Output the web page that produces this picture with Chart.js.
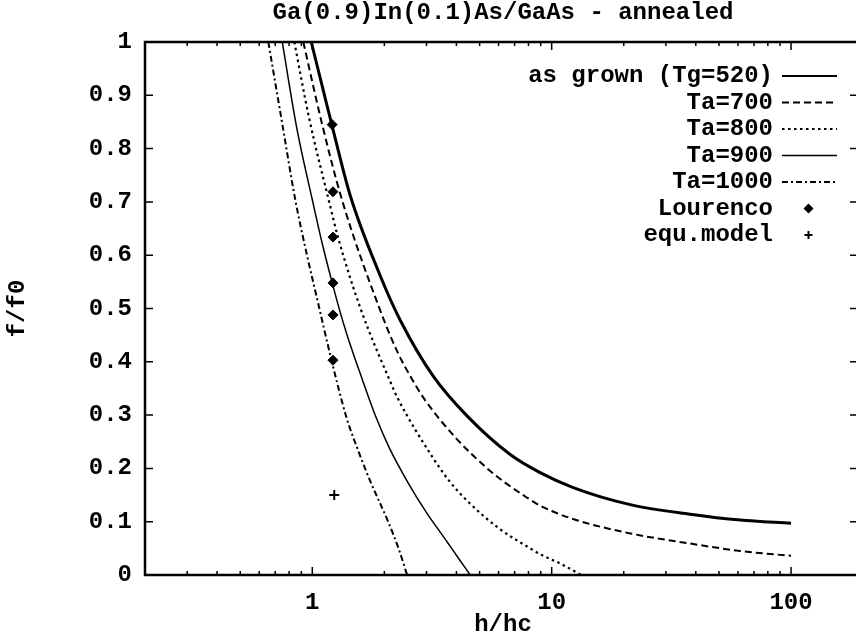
<!DOCTYPE html>
<html>
<head>
<meta charset="utf-8">
<script src="https://cdn.jsdelivr.net/npm/chart.js@4.4.1/dist/chart.umd.min.js"></script>
<style>
  html, body { margin: 0; padding: 0; background: #fff; overflow: hidden; width: 856px; height: 637px; }
  #chart { display: block; }
</style>
</head>
<body>
<canvas id="chart" width="868" height="637"></canvas>
<script>
// values
const grownX = [0.99, 1.11, 1.22, 1.44, 1.92, 2.33, 3.2, 4.44, 6.71, 8.95, 12.3, 21.3, 37.9, 61.3, 100];
const grownY = [1.0, 0.91, 0.836, 0.712, 0.562, 0.478, 0.373, 0.298, 0.226, 0.192, 0.164, 0.132, 0.114, 0.103, 0.097];

const ta700X = [0.917, 1.1, 1.33, 1.89, 2.26, 2.62, 2.96, 3.96, 5.38, 6.27, 7.9, 8.95, 12.3, 21.3, 37.9, 61.3, 100];
const ta700Y = [1.0, 0.845, 0.704, 0.505, 0.42, 0.366, 0.328, 0.258, 0.2, 0.176, 0.145, 0.13, 0.105, 0.078, 0.059, 0.045, 0.036];

const ta800X = [0.841, 0.97, 1.17, 1.28, 1.59, 2.12, 2.26, 3.2, 3.77, 4.44, 6.0, 8.13, 8.95, 10.8, 13.3];
const ta800Y = [1.0, 0.857, 0.704, 0.634, 0.5, 0.362, 0.334, 0.219, 0.174, 0.139, 0.088, 0.05, 0.039, 0.022, 0];

const ta900X = [0.749, 0.86, 1.0, 1.1, 1.2, 1.3, 1.4, 1.62, 1.83, 2.1, 2.52, 3.0, 3.66, 4.1, 4.57];
const ta900Y = [1.0, 0.84, 0.704, 0.622, 0.555, 0.497, 0.449, 0.366, 0.3, 0.238, 0.172, 0.117, 0.062, 0.03, 0];

const ta1000X = [0.655, 0.75, 0.849, 0.95, 1.05, 1.2, 1.39, 1.55, 1.75, 2.06, 2.3, 2.49];
const ta1000Y = [1.0, 0.845, 0.704, 0.6, 0.516, 0.405, 0.295, 0.235, 0.175, 0.103, 0.048, 0];

const lourencoX = [1.21, 1.22, 1.22, 1.22, 1.22, 1.22];
const lourencoY = [0.845, 0.719, 0.634, 0.548, 0.488, 0.403];

const equX = [1.235];
const equY = [0.15];

const xMajorTicks = [1, 10, 100];
const xMinorTicks = [0.3, 0.4, 0.5, 0.6, 0.7, 0.8, 0.9, 2, 3, 4, 5, 6, 7, 8, 9, 20, 30, 40, 50, 60, 70, 80, 90];
const yTicks = [0, 0.1, 0.2, 0.3, 0.4, 0.5, 0.6, 0.7, 0.8, 0.9, 1];

const legendLabels = ["as grown (Tg=520)", "Ta=700", "Ta=800", "Ta=900", "Ta=1000", "Lourenco", "equ.model"];

const FONT = "'Liberation Mono', 'Courier New', monospace";

function pts(xs, ys) {
  return xs.map((x, i) => ({ x: x, y: ys[i] }));
}

function curve(label, xs, ys, width, dash) {
  return {
    label: label,
    data: pts(xs, ys),
    borderColor: "#000",
    borderWidth: width,
    borderDash: dash,
    pointRadius: 0,
    fill: false,
    cubicInterpolationMode: "monotone",
  };
}

const datasets = [
  curve(legendLabels[0], grownX, grownY, 3, []),
  curve(legendLabels[1], ta700X, ta700Y, 2, [7, 4]),
  curve(legendLabels[2], ta800X, ta800Y, 2.2, [2.5, 3.5]),
  curve(legendLabels[3], ta900X, ta900Y, 1.5, []),
  curve(legendLabels[4], ta1000X, ta1000Y, 2, [6, 3, 2, 3]),
  {
    label: legendLabels[5],
    data: pts(lourencoX, lourencoY),
    showLine: false,
    pointStyle: "rectRot",
    pointRadius: 5,
    backgroundColor: "#000",
    borderColor: "#000",
    borderWidth: 1,
  },
  {
    label: legendLabels[6],
    data: pts(equX, equY),
    showLine: false,
    pointStyle: "cross",
    pointRadius: 5,
    backgroundColor: "#000",
    borderColor: "#000",
    borderWidth: 2,
  },
];

// gnuplot style frame: inward ticks on all four sides, legend at top right
const framePlugin = {
  id: "frame",
  afterDraw(chart) {
    const { ctx, chartArea: a, scales } = chart;
    const x = scales.x;
    const y = scales.y;
    ctx.save();
    ctx.strokeStyle = "#000";
    ctx.lineWidth = 1.5;
    ctx.beginPath();
    const xTick = (v, len) => {
      const px = x.getPixelForValue(v);
      ctx.moveTo(px, a.bottom);
      ctx.lineTo(px, a.bottom - len);
      ctx.moveTo(px, a.top);
      ctx.lineTo(px, a.top + len);
    };
    xMinorTicks.forEach((v) => xTick(v, 4));
    xMajorTicks.forEach((v) => xTick(v, 8));
    yTicks.forEach((v) => {
      const py = y.getPixelForValue(v);
      ctx.moveTo(a.left, py);
      ctx.lineTo(a.left + 8, py);
      ctx.moveTo(a.right, py);
      ctx.lineTo(a.right - 11, py);
    });
    ctx.stroke();

    ctx.lineWidth = 2.5;
    ctx.strokeRect(a.left, a.top, a.right - a.left, a.bottom - a.top);

    // legend
    ctx.font = "bold 24px " + FONT;
    ctx.fillStyle = "#000";
    ctx.textAlign = "right";
    ctx.textBaseline = "middle";
    const textRight = 773;
    const lineStart = 782;
    const lineEnd = 837;
    chart.data.datasets.forEach((ds, i) => {
      const rowY = 76 + i * 26.5;
      ctx.fillText(ds.label, textRight, rowY);
      if (ds.showLine === false) {
        const cx = (lineStart + lineEnd) / 2 - 1;
        ctx.beginPath();
        if (ds.pointStyle === "rectRot") {
          ctx.moveTo(cx, rowY - 5);
          ctx.lineTo(cx + 5, rowY);
          ctx.lineTo(cx, rowY + 5);
          ctx.lineTo(cx - 5, rowY);
          ctx.closePath();
          ctx.fill();
        } else {
          ctx.lineWidth = 2;
          ctx.setLineDash([]);
          ctx.moveTo(cx - 4, rowY);
          ctx.lineTo(cx + 4, rowY);
          ctx.moveTo(cx, rowY - 4);
          ctx.lineTo(cx, rowY + 4);
          ctx.stroke();
        }
      } else {
        ctx.beginPath();
        ctx.lineWidth = Math.min(ds.borderWidth, 2);
        ctx.setLineDash(ds.borderDash);
        ctx.moveTo(lineStart, rowY);
        ctx.lineTo(lineEnd, rowY);
        ctx.stroke();
        ctx.setLineDash([]);
      }
    });
    ctx.restore();
  },
};

new Chart(document.getElementById("chart"), {
  type: "line",
  data: { datasets: datasets },
  plugins: [framePlugin],
  options: {
    responsive: false,
    animation: false,
    devicePixelRatio: 1,
    layout: { padding: 0 },
    plugins: {
      legend: { display: false },
      tooltip: { enabled: false },
      title: {
        display: true,
        fullSize: false,
        text: "Ga(0.9)In(0.1)As/GaAs - annealed",
        color: "#000",
        font: { family: FONT, size: 24, weight: "bold", lineHeight: 1 },
        padding: { top: 1, bottom: 17 },
      },
    },
    scales: {
      x: {
        type: "logarithmic",
        min: 0.2,
        max: 196,
        grid: { display: false, drawTicks: false },
        border: { display: false },
        afterBuildTicks: (scale) => {
          scale.ticks = xMajorTicks.map((v) => ({ value: v }));
        },
        afterFit: (scale) => {
          scale.height = 62;
        },
        ticks: {
          color: "#000",
          font: { family: FONT, size: 24, weight: "bold", lineHeight: 1 },
          padding: 16,
          maxRotation: 0,
          autoSkip: false,
          callback: (v) => String(v),
        },
        title: {
          display: true,
          text: "h/hc",
          color: "#000",
          font: { family: FONT, size: 24, weight: "bold", lineHeight: 1 },
          padding: { top: 0, bottom: 0 },
        },
      },
      y: {
        type: "linear",
        min: 0,
        max: 1,
        grid: { display: false, drawTicks: false },
        border: { display: false },
        afterBuildTicks: (scale) => {
          scale.ticks = yTicks.map((v) => ({ value: v }));
        },
        afterFit: (scale) => {
          scale.width = 145;
        },
        ticks: {
          color: "#000",
          font: { family: FONT, size: 24, weight: "bold", lineHeight: 1 },
          padding: 13,
          autoSkip: false,
          callback: (v) => String(v),
        },
        title: {
          display: true,
          text: "f/f0",
          color: "#000",
          font: { family: FONT, size: 24, weight: "bold", lineHeight: 1 },
          padding: { top: 6, bottom: 0 },
        },
      },
    },
  },
});
</script>
</body>
</html>
